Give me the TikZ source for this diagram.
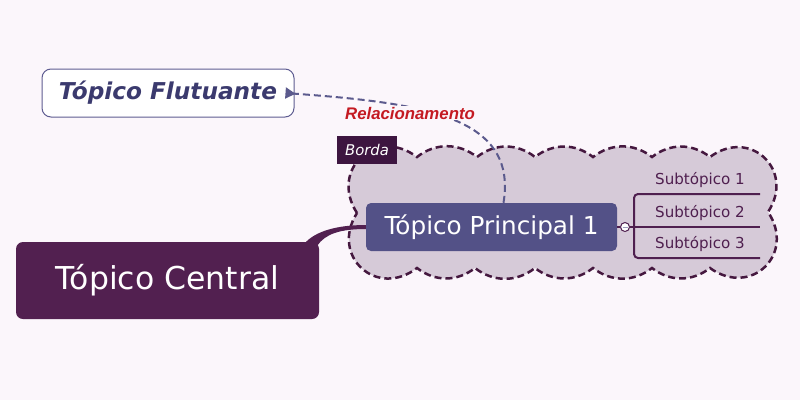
\documentclass[tikz,border=0pt]{standalone}
\usepackage{fontspec}
\setmainfont{DejaVu Sans}
\newfontfamily\relfont{Liberation Sans}
\usetikzlibrary{arrows.meta,calc}
\definecolor{bgpage}{HTML}{FBF6FB}
\definecolor{cloudfill}{HTML}{D6CAD8}
\definecolor{clouddraw}{HTML}{45183F}
\definecolor{cenfill}{HTML}{522050}
\definecolor{prinfill}{HTML}{535187}
\definecolor{flutdraw}{HTML}{5E5C91}
\definecolor{fluttext}{HTML}{3B3A6E}
\definecolor{relcolor}{HTML}{5B5A8D}
\definecolor{relred}{HTML}{C41A22}
\definecolor{branch}{HTML}{4F1F4F}
\definecolor{bordafill}{HTML}{3D1540}
\begin{document}
\begin{tikzpicture}[x=1pt,y=-1pt,
    central/.style={fill=cenfill, text=white, rounded corners=7pt,
      minimum width=303pt, minimum height=77pt,
      font=\fontsize{31.5}{37}\selectfont},
    principal/.style={fill=prinfill, text=white, rounded corners=5pt,
      minimum width=251pt, minimum height=48pt,
      font=\fontsize{24.7}{29}\selectfont},
    floating/.style={draw=flutdraw, line width=1pt, fill=white, text=fluttext,
      rounded corners=9pt, minimum width=252pt, minimum height=48pt,
      font=\fontsize{23.2}{27}\selectfont\bfseries\itshape},
    subtopic/.style={anchor=south, minimum width=120pt, inner xsep=0pt,
      inner ysep=9pt, text depth=0pt, text=branch,
      font=\fontsize{15.1}{18}\selectfont},
    fold/.style={circle, draw=branch, line width=1pt, fill=white,
      minimum size=9pt, inner sep=0pt,
      path picture={\draw[line width=1pt, color=relcolor!60]
        ($(path picture bounding box.center)+(-2.5,0)$) -- +(5,0);}},
    bordalabel/.style={fill=bordafill, text=white, minimum width=60pt,
      minimum height=28pt, inner sep=0pt,
      font=\fontsize{14.8}{17}\selectfont\itshape},
    cloudline/.style={draw=clouddraw, fill=cloudfill, line width=2.5pt,
      dash pattern=on 7pt off 4pt},
    bump/.style={bend left=38},
    corner/.style={bend left=80, looseness=1.6},
    relline/.style={draw=relcolor, line width=2pt, dash pattern=on 7pt off 4pt,
      -{Triangle[reversed, length=10pt, width=11pt]}},
    branchline/.style={draw=branch, line width=2pt}]
  \fill[bgpage] (0,0) rectangle (800,400);
  \useasboundingbox (0,0) rectangle (800,400);

  % boundary
  \path[cloudline] (357,213) to[corner] (417,157)
    to[bump] (477,157) to[bump] (535,157) to[bump] (593,157)
    to[bump] (652,157) to[bump] (710,157)
    to[corner] (768,212) to[corner] (710,268)
    to[bump] (652,268) to[bump] (593,268) to[bump] (535,268)
    to[bump] (475,268) to[bump] (417,268)
    to[corner] (357,213) -- cycle;
  \node[bordalabel] (borda) at (367,150) {Borda};

  % topics
  \node[central] (cen) at (167.5,280.5) {Tópico Central};
  \node[principal] (prin) at (491.5,227) {Tópico Principal 1};
  \node[floating] (flut) at (168,93) {Tópico Flutuante};
  \node[fold] (fold) at (625,227) {};
  \node[subtopic] (s1) at (700,194) {Subtópico 1};
  \node[subtopic] (s2) at (700,227) {Subtópico 2};
  \node[subtopic] (s3) at (700,258) {Subtópico 3};

  % branches
  \fill[cenfill] ($(cen.north east)+(-14,1)$)
    .. controls (315,232) and (335,225) .. ($(prin.west)+(0,-2)$)
    -- ($(prin.west)+(0,2)$)
    .. controls (340,229) and (325,234) .. ($(cen.north east)+(-2,4)$) -- cycle;
  \draw[branchline] (prin.east) -- (fold.west);
  \draw[branchline] (fold.east) -- (s2.south east);
  \draw[branchline, rounded corners=4pt]
    (s1.south east) -| ($(fold.east)+(4,0)$) |- (s3.south east);

  % relationship
  \draw[relline] ($(prin.north)+(12,0)$)
    .. controls (518,115) and (420,103) .. ($(flut.east)+(-9,0)$);
  \node[fill=bgpage, inner sep=1pt, text=relred,
    font=\fontsize{16.8}{20}\selectfont\relfont\bfseries\itshape]
    (rel) at (410,113) {Relacionamento};
\end{tikzpicture}
\end{document}
